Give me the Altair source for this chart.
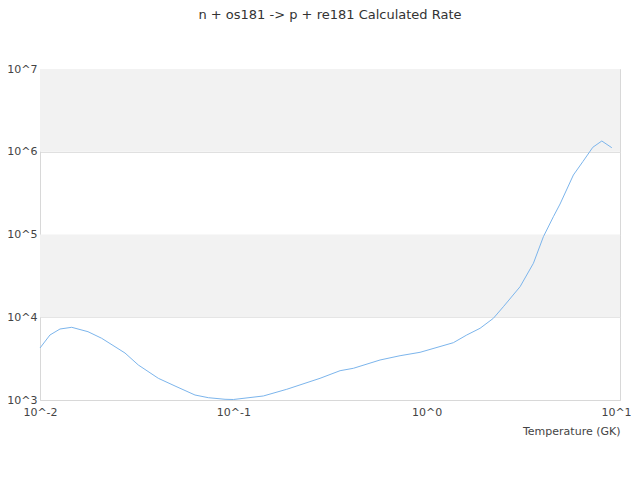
import altair as alt
import pandas as pd

temperature = [0.01, 0.01126, 0.01269, 0.01459, 0.01771, 0.02085, 0.02752, 0.03225,
               0.04093, 0.04993, 0.06333, 0.07425, 0.09058, 0.1, 0.1429, 0.1889,
               0.2809, 0.3565, 0.4176, 0.5741, 0.7285, 0.9243, 1.374, 1.612, 1.889,
               2.213, 2.493, 3.042, 3.565, 4.016, 4.523, 4.898, 5.740, 6.421, 7.233,
               8.052, 9.07]
rate = [4250, 6103, 7211, 7558, 6690, 5567, 3698, 2649,
        1829, 1476, 1149, 1066, 1020, 1014, 1118, 1347,
        1829, 2260, 2416, 3044, 3430, 3771, 4925, 6103, 7354,
        9712, 13410, 23400, 44870, 94060, 164100, 233700, 523600, 758300, 1132000,
        1349000, 1119000]

band_lo = [1e4, 1e6]
band_hi = [1e5, 1e7]

x_ticks = [0.01, 0.1, 1, 10]
y_ticks = [1e3, 1e4, 1e5, 1e6, 1e7]

df = pd.DataFrame({"T": temperature, "rate": rate})
bands = pd.DataFrame({"lo": band_lo, "hi": band_hi})

FONT = "DejaVu Sans"
xscale = alt.Scale(type="log", domain=[0.01, 10], nice=False)
yscale = alt.Scale(type="log", domain=[1e3, 1e7], nice=False)

band_layer = alt.Chart(bands).mark_rect(color="#f2f2f2").encode(
    y=alt.Y("lo:Q", scale=yscale),
    y2="hi:Q",
)

line = alt.Chart(df).mark_line(color="#7cb5ec", strokeWidth=1).encode(
    x=alt.X("T:Q", scale=xscale,
            axis=alt.Axis(values=x_ticks, title="Temperature (GK)",
                          labelExpr="'10^' + round(log(datum.value)/LN10)",
                          grid=False, ticks=False, domainColor="#d8d8d8",
                          labelFlush=False,
                          labelOffset=alt.condition("datum.value >= 10",
                                                    alt.value(-4), alt.value(0)),
                          labelFont=FONT, labelFontSize=11, labelColor="#444444",
                          labelPadding=6, titleFont=FONT, titleFontSize=11,
                          titleFontWeight="normal", titleColor="#444444",
                          titleAnchor="end", titlePadding=8)),
    y=alt.Y("rate:Q", scale=yscale,
            axis=alt.Axis(values=y_ticks, title=None,
                          labelExpr="'10^' + round(log(datum.value)/LN10)",
                          grid=True, gridColor="#e0e0e0", ticks=False,
                          domainColor="#d8d8d8", labelFlush=False,
                          labelFont=FONT, labelFontSize=11, labelColor="#444444",
                          labelPadding=3)),
)

chart = alt.layer(band_layer, line).properties(
    width=580, height=331,
    title=alt.TitleParams("n + os181 -> p + re181 Calculated Rate", font=FONT,
                          fontSize=13, fontWeight="normal", color="#333333",
                          anchor="middle", offset=41),
    autosize=alt.AutoSizeParams(type="none"),
    padding={"left": 32, "top": 61, "right": 12, "bottom": 60},
).configure_view(stroke="#d8d8d8")

chart.save("out.html", embed_options={"renderer": "svg", "actions": False})
